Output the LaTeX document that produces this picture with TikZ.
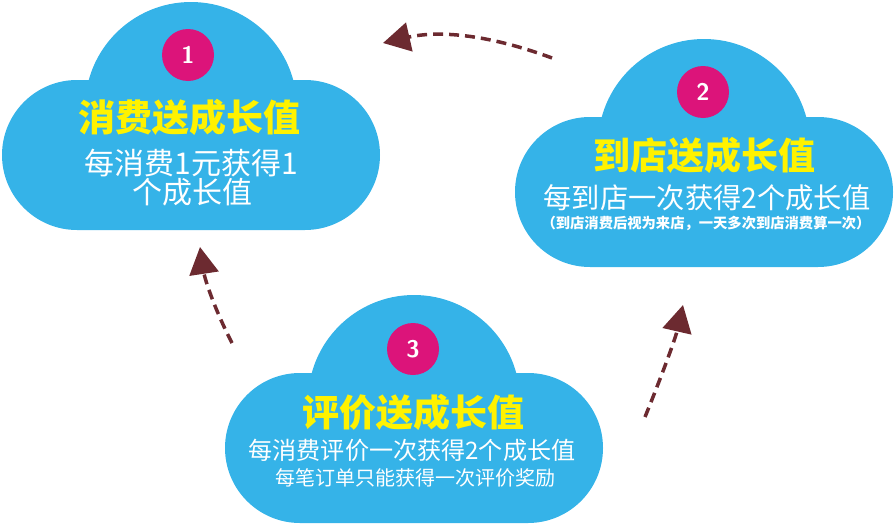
\documentclass[tikz,border=0pt]{standalone}
\usepackage{fontspec}
\usetikzlibrary{arrows.meta}
\newfontfamily\cjk{Noto Sans CJK SC}
\definecolor{cloudblue}{HTML}{35B3E8}
\definecolor{badge}{HTML}{DC147A}
\definecolor{titleyellow}{HTML}{FFF200}
\definecolor{arrowred}{HTML}{6C2A30}
\tikzset{
  cloudpart/.style={fill=cloudblue, draw=none},
  badgecirc/.style={circle, fill=badge, minimum size=52pt, inner sep=0pt, text=white, font=\sffamily\bfseries\fontsize{24}{24}\selectfont},
  titletext/.style={text=titleyellow, font=\cjk\bfseries\fontsize{37}{40}\selectfont, inner sep=0pt},
  bodytext/.style={text=white, inner sep=0pt, align=center},
  flowarrow/.style={draw=arrowred, line width=3.5pt, dash pattern=on 10pt off 6pt, -{Triangle[length=27pt,width=29pt,fill=arrowred]}},
}
% #1 = centre x, #2 = top of lower body
\newcommand{\mycloud}[2]{%
  \fill[cloudpart, rounded corners=75pt] (#1-189,#2) rectangle (#1+189,#2+150);
  \fill[cloudpart] (#1,#2+28) circle[radius=106pt];
}
\begin{document}
\begin{tikzpicture}[x=1pt,y=-1pt]
\useasboundingbox (0,0) rectangle (894,525);
% clouds
\mycloud{191}{80}
\mycloud{704}{117}
\mycloud{414}{373}
% cloud 1
\node[badgecirc] (b1) at (188,55) {1};
\node[titletext] (t1) at (189,117) {消费送成长值};
\node[bodytext, font=\cjk\fontsize{30}{30}\selectfont] (l1a) at (191,163) {每消费1元获得1};
\node[bodytext, font=\cjk\fontsize{30}{30}\selectfont] (l1b) at (192,192) {个成长值};
% cloud 2
\node[badgecirc] (b2) at (703,92) {2};
\node[titletext] (t2) at (704,155) {到店送成长值};
\node[bodytext, font=\cjk\fontsize{28.3}{30}\selectfont] (l2a) at (707,198) {每到店一次获得2个成长值};
\node[bodytext, font=\cjk\bfseries\fontsize{14.3}{14}\selectfont] (l2b) at (706,223) {（到店消费后视为来店，一天多次到店消费算一次）};
% cloud 3
\node[badgecirc] (b3) at (413,349) {3};
\node[titletext] (t3) at (413,412) {评价送成长值};
\node[bodytext, font=\cjk\fontsize{24.1}{26}\selectfont] (l3a) at (412,450) {每消费评价一次获得2个成长值};
\node[bodytext, font=\cjk\fontsize{20}{20}\selectfont] (l3b) at (415,478) {每笔订单只能获得一次评价奖励};
% arrows
\coordinate (a1s) at (552,58);
\coordinate (a1e) at (383,43);
\coordinate (a2s) at (232,343);
\coordinate (a2e) at (200,247);
\coordinate (a3s) at (645,417);
\coordinate (a3e) at (683,305);
\draw[flowarrow] (a1s) .. controls (490,35) and (440,30) .. (a1e);
\draw[flowarrow] (a2s) .. controls (215,310) and (205,280) .. (a2e);
\draw[flowarrow] (a3s) .. controls (660,380) and (675,340) .. (a3e);
\end{tikzpicture}
\end{document}
